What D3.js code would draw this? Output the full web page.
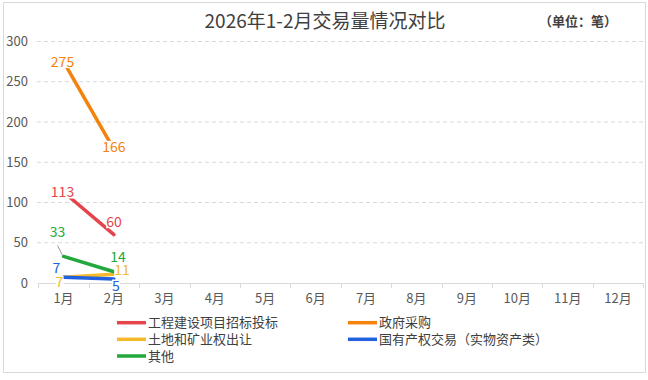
<!DOCTYPE html>
<html><head><meta charset="utf-8">
<script src="https://cdn.jsdelivr.net/npm/d3@7"></script>
<style>body{margin:0;background:#fff}svg{display:block}text{font-family:"Microsoft YaHei","Noto Sans CJK SC","Noto Sans",sans-serif}</style>
</head><body><svg id="c" width="648" height="380"></svg>
<script>
const months = ["1月","2月","3月","4月","5月","6月","7月","8月","9月","10月","11月","12月"];
const seriesNames = ["工程建设项目招标投标","政府采购","土地和矿业权出让","国有产权交易（实物资产类）","其他"];
const engineering = [113, 60];
const procurement = [275, 166];
const land = [7, 11];
const stateAssets = [7, 5];
const other = [33, 14];
const yTicks = [0, 50, 100, 150, 200, 250, 300];

const colors = ["#E5444A", "#F4820C", "#F5B92B", "#2160E0", "#22A83C"];
const seriesValues = [engineering, procurement, land, stateAssets, other];
// label offsets (dx, dy) relative to points, per series per month
const labelOffsets = [
  [[-1,0],[0,-13]],
  [[-1,0],[0,-2]],
  [[-4,5],[8,-4]],
  [[-7,-9],[2,7]],
  [[-6,-24],[4,-15]]
];

const svg = d3.select("#c");
svg.append("rect").attr("x",3.5).attr("y",2.5).attr("width",642).attr("height",370)
  .attr("fill","#fff").attr("stroke","#d9d9d9");

const x = d3.scaleBand().domain(months).range([38.3, 643.3]);
const y = d3.scaleLinear().domain([0,300]).range([283, 41.5]);

// gridlines
svg.append("g").selectAll("line").data(yTicks.filter(d=>d>0)).join("line")
  .attr("x1",37).attr("x2",643.3).attr("y1",d=>y(d)).attr("y2",d=>y(d))
  .attr("stroke","#d9d9d9").attr("stroke-dasharray","4,3");

// y labels
svg.append("g").selectAll("text").data(yTicks).join("text")
  .attr("x",28).attr("y",d=>y(d)).attr("dy","0.35em").attr("text-anchor","end")
  .attr("font-size",13).attr("fill","#595959").text(d=>d);

// x axis
svg.append("line").attr("x1",38.3).attr("x2",643.3).attr("y1",283.5).attr("y2",283.5).attr("stroke","#d9d9d9");
const bounds = months.map(m=>x(m)).concat([x.range()[1]]);
svg.append("g").selectAll("line").data(bounds).join("line")
  .attr("x1",d=>Math.round(d)+0.5).attr("x2",d=>Math.round(d)+0.5).attr("y1",283).attr("y2",288)
  .attr("stroke","#d9d9d9");
svg.append("g").selectAll("text").data(months).join("text")
  .attr("x",d=>x(d)+x.bandwidth()/2).attr("y",303).attr("text-anchor","middle")
  .attr("font-size",13).attr("fill","#595959").text(d=>d);

// lines
const line = d3.line().x((d,i)=>x(months[i])+x.bandwidth()/2).y(d=>y(d));
seriesValues.forEach((vals,si)=>{
  svg.append("path").datum(vals).attr("d",line).attr("fill","none")
    .attr("stroke",colors[si]).attr("stroke-width",3.5).attr("stroke-linecap","round");
});

// leader for "33"
{
  const px = x(months[0])+x.bandwidth()/2, py = y(other[0]);
  svg.append("line").attr("x1",px-6).attr("y1",py-11).attr("x2",px-1).attr("y2",py-1)
    .attr("stroke","#999").attr("stroke-width",1);
}

// labels
const lg = svg.append("g");
seriesValues.forEach((vals,si)=>{
  vals.forEach((v,i)=>{
    const px = x(months[i])+x.bandwidth()/2 + labelOffsets[si][i][0];
    const py = y(v) + labelOffsets[si][i][1];
    const g = lg.append("g");
    const t = g.append("text").attr("x",px).attr("y",py).attr("dy","0.36em")
      .attr("text-anchor","middle").attr("font-size",14).attr("fill",colors[si]).text(v);
    const bb = t.node().getBBox();
    g.insert("rect","text").attr("x",bb.x).attr("y",py-6.5).attr("width",bb.width).attr("height",13).attr("fill","#fff");
  });
});

// title
svg.append("text").attr("x",325).attr("y",28).attr("text-anchor","middle")
  .attr("font-size",19).attr("fill","#404040").text("2026年1-2月交易量情况对比");
svg.append("text").attr("x",539).attr("y",26).attr("font-size",13).attr("font-weight","bold")
  .attr("fill","#404040").text("（单位：笔）");

// legend
const legPos = [[117,322.7],[348,322.7],[117,339.3],[348,339.3],[117,356]];
seriesNames.forEach((n,i)=>{
  const [lx,ly] = legPos[i];
  svg.append("line").attr("x1",lx).attr("x2",lx+29).attr("y1",ly).attr("y2",ly)
    .attr("stroke",colors[i]).attr("stroke-width",3.5);
  svg.append("text").attr("x",lx+31).attr("y",ly).attr("dy","0.35em")
    .attr("font-size",13).attr("fill","#404040").text(n);
});
</script></body></html>
